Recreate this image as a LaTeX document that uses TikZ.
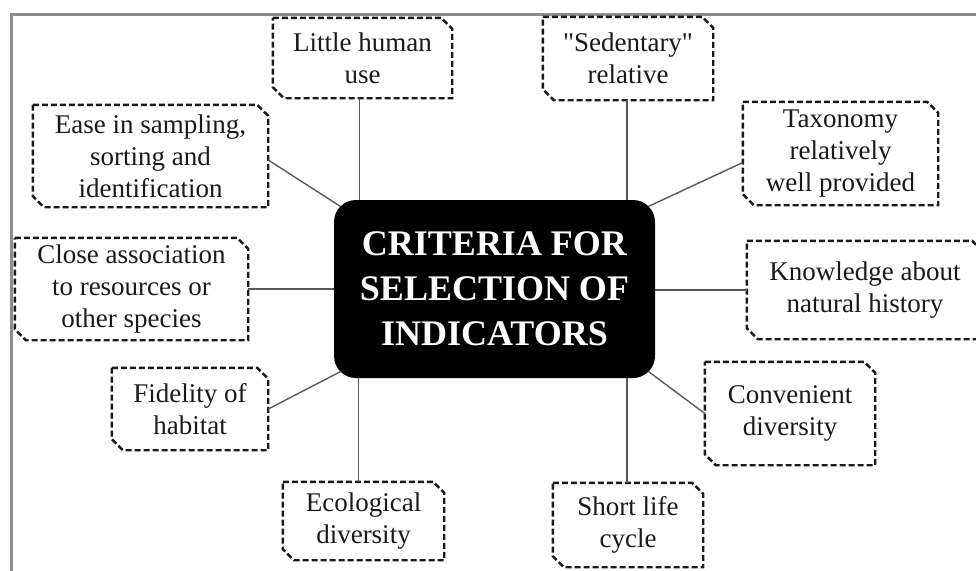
\documentclass[tikz,border=0pt]{standalone}
\usepackage{fontspec}
\setmainfont{Liberation Serif}
\newfontfamily\plainq{Liberation Serif}
\newcommand\chamfbox[1]{\draw[chbox] (#1.north west) -- ([xshift=-11pt]#1.north east) -- ([yshift=-11pt]#1.north east) -- (#1.south east) -- ([xshift=11pt]#1.south west) -- ([yshift=11pt]#1.south west) -- cycle;}
\begin{document}
\begin{tikzpicture}[x=1pt,y=-1pt,
 crit/.style={rectangle, inner sep=0pt, align=center, font=\fontsize{27}{32}\selectfont, text=black!90},
 chbox/.style={draw=black!90, line width=2.4pt, dash pattern=on 6pt off 3pt},
 link/.style={draw=black!65, line width=1.4pt},
 frame/.style={draw=black!45, line width=3pt},
 core/.style={rectangle, rounded corners=22pt, fill=black, text=white, align=center, font=\bfseries\fontsize{36}{45}\selectfont}]
\useasboundingbox (0,0) rectangle (976,570);
\clip (0,0) rectangle (976,570);
\draw[frame] (11,572) -- (11,14) -- (978,14);

\node[core, minimum width=321pt, minimum height=178pt] (M) at (494.5,289) {CRITERIA FOR\\SELECTION OF\\INDICATORS};
\coordinate (cNW) at ([shift={(6.5pt,-6.5pt)}]M.north west);
\coordinate (cNE) at ([shift={(-6.5pt,-6.5pt)}]M.north east);
\coordinate (cSW) at ([shift={(6.5pt,6.5pt)}]M.south west);
\coordinate (cSE) at ([shift={(-6.5pt,6.5pt)}]M.south east);

\node[crit, minimum width=179pt, minimum height=80pt] (A) at (362.5,58) {Little human\\use};
\node[crit, minimum width=170pt, minimum height=83pt] (B) at (628,58.5) {{\plainq"}Sedentary{\plainq"}\\relative};
\node[crit, minimum width=235pt, minimum height=102pt] (C) at (150.5,156) {Ease in sampling,\\sorting and\\identification};
\node[crit, minimum width=233pt, minimum height=102pt] (D) at (131.5,289) {Close association\\to resources or\\other species};
\node[crit, minimum width=195pt, minimum height=103pt] (E) at (840.5,153.5) {Taxonomy\\relatively\\well provided};
\node[crit, minimum width=236pt, minimum height=98pt] (F) at (865,290) {Knowledge about\\natural history};
\node[crit, minimum width=156pt, minimum height=82pt] (G) at (190,409) {Fidelity of\\habitat};
\node[crit, minimum width=161pt, minimum height=78pt] (H) at (363.5,521) {Ecological\\diversity};
\node[crit, minimum width=150pt, minimum height=84pt] (I) at (628,525) {Short life\\cycle};
\node[crit, minimum width=170pt, minimum height=103pt] (J) at (790,413.5) {Convenient\\diversity};

\foreach \n in {A,B,C,D,E,F,G,H,I,J} {\chamfbox{\n}}

\draw[link] ([xshift=-3pt]A.south) -- ([xshift=-3pt]A.south |- M.north);
\draw[link] ([xshift=-1pt]B.south) -- ([xshift=-1pt]B.south |- M.north);
\draw[link] ([xshift=-5pt]H.north) -- ([xshift=-5pt]H.north |- M.south);
\draw[link] ([xshift=-1pt]I.north) -- ([xshift=-1pt]I.north |- M.south);
\draw[link] ([yshift=-4pt]C.east) -- (cNW);
\draw[link] ([yshift=-9pt]E.west) -- (cNE);
\draw[link] (G.east) -- (cSW);
\draw[link] (J.west) -- (cSE);
\draw[link] (D.east) -- (D.east -| M.west);
\draw[link] (F.west) -- (F.west -| M.east);
\end{tikzpicture}
\end{document}
